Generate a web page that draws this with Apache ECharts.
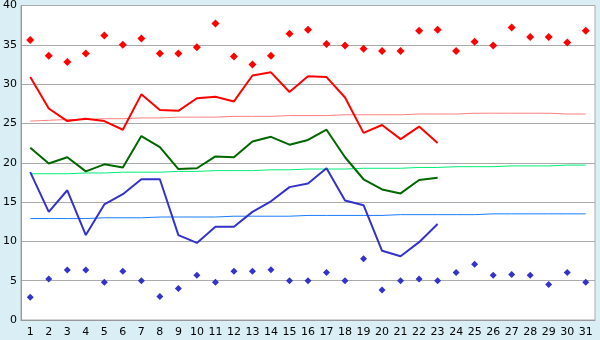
<!DOCTYPE html>
<html>
<head>
<meta charset="utf-8">
<script src="https://cdn.jsdelivr.net/npm/echarts@6/dist/echarts.min.js"></script>
<style>
  html, body { margin: 0; padding: 0; background: #d9eff5; }
  #chart { width: 600px; height: 340px; }
</style>
</head>
<body>
<div id="chart"></div>
<script>
// days of the month
var days = [];
for (var d = 1; d <= 31; d++) days.push(String(d));

// record highs / lows (diamonds)
var recordHigh = [35.6, 33.6, 32.8, 33.9, 36.2, 35.0, 35.8, 33.9, 33.9, 34.7, 37.7, 33.5, 32.5, 33.6, 36.4, 36.9,
  35.1, 34.9, 34.5, 34.2, 34.2, 36.8, 36.9, 34.2, 35.4, 34.9, 37.2, 36.0, 36.0, 35.3, 36.8];
var recordLow = [2.9, 5.2, 6.35, 6.35, 4.8, 6.2, 5.0, 3.0, 4.0, 5.7, 4.8, 6.2, 6.2, 6.4, 5.0, 5.0,
  6.05, 5.0, 7.8, 3.8, 5.0, 5.2, 5.0, 6.05, 7.1, 5.7, 5.8, 5.7, 4.5, 6.05, 4.8];

// this month's observed values (days 1-23)
var maxTemp = [30.9, 26.9, 25.3, 25.6, 25.3, 24.2, 28.7, 26.7, 26.6, 28.2, 28.4, 27.8, 31.1, 31.5, 29.0, 31.0,
  30.9, 28.3, 23.8, 24.8, 23.0, 24.6, 22.5];
var meanTemp = [21.9, 19.9, 20.7, 18.9, 19.8, 19.4, 23.4, 22.0, 19.2, 19.3, 20.8, 20.7, 22.7, 23.3, 22.3, 22.9,
  24.2, 20.7, 17.9, 16.6, 16.1, 17.8, 18.1];
var minTemp = [18.8, 13.75, 16.5, 10.8, 14.7, 16.0, 17.9, 17.9, 10.8, 9.8, 11.85, 11.85, 13.75, 15.1, 16.9, 17.35,
  19.3, 15.2, 14.6, 8.8, 8.1, 9.9, 12.2];

// normals
var normalHigh = [25.3, 25.4, 25.5, 25.5, 25.6, 25.6, 25.7, 25.7, 25.8, 25.8, 25.8, 25.9, 25.9, 25.9, 26.0, 26.0,
  26.0, 26.1, 26.1, 26.1, 26.1, 26.2, 26.2, 26.2, 26.3, 26.3, 26.3, 26.3, 26.3, 26.2, 26.2];
var normalMean = [18.6, 18.6, 18.6, 18.7, 18.7, 18.8, 18.8, 18.8, 18.9, 18.9, 19.0, 19.0, 19.0, 19.1, 19.1, 19.2,
  19.2, 19.2, 19.3, 19.3, 19.3, 19.4, 19.4, 19.5, 19.5, 19.5, 19.6, 19.6, 19.6, 19.7, 19.7];
var normalLow = [12.9, 12.9, 12.9, 12.9, 13.0, 13.0, 13.0, 13.1, 13.1, 13.1, 13.1, 13.2, 13.2, 13.2, 13.2, 13.3,
  13.3, 13.3, 13.3, 13.3, 13.4, 13.4, 13.4, 13.4, 13.4, 13.5, 13.5, 13.5, 13.5, 13.5, 13.5];

var chart = echarts.init(document.getElementById("chart"), null, { renderer: "canvas" });

function thinLine(data, color) {
  return {
    type: "line", data: data, symbol: "none", silent: true, z: 2,
    lineStyle: { color: color, width: 1 }
  };
}
function mainLine(data, color) {
  return {
    type: "line", data: data, symbol: "none", z: 3,
    lineStyle: { color: color, width: 2 }
  };
}

chart.setOption({
  animation: false,
  backgroundColor: "#d9eff5",
  textStyle: { fontFamily: "DejaVu Sans" },
  grid: {
    left: 20, right: 5, top: 5, bottom: 20,
    show: true, backgroundColor: "#fff", borderColor: "#aaa", borderWidth: 1
  },
  xAxis: {
    type: "category",
    data: days,
    boundaryGap: true,
    axisLine: { lineStyle: { color: "#999" } },
    axisTick: { alignWithLabel: true, length: 5, lineStyle: { color: "#000" } },
    axisLabel: { color: "#000", fontSize: 11, margin: 7, interval: 0 }
  },
  yAxis: {
    type: "value",
    min: 0, max: 40, interval: 5,
    axisLine: { show: true, lineStyle: { color: "#999" } },
    axisTick: { show: false },
    axisLabel: { color: "#000", fontSize: 11, margin: 4 },
    splitLine: { lineStyle: { color: "#aaa" } }
  },
  series: [
    thinLine(normalHigh, "#ff8080"),
    thinLine(normalMean, "#00ee77"),
    thinLine(normalLow, "#1a7cff"),
    mainLine(maxTemp, "#ff0000"),
    mainLine(meanTemp, "#006600"),
    mainLine(minTemp, "#3333cc"),
    {
      type: "scatter", data: recordHigh, symbol: "diamond", symbolSize: 8, z: 4,
      itemStyle: { color: "#ff0000", opacity: 1 }
    },
    {
      type: "scatter", data: recordLow, symbol: "diamond", symbolSize: 7, z: 4,
      itemStyle: { color: "#3333cc", opacity: 1 }
    }
  ]
});
</script>
</body>
</html>
